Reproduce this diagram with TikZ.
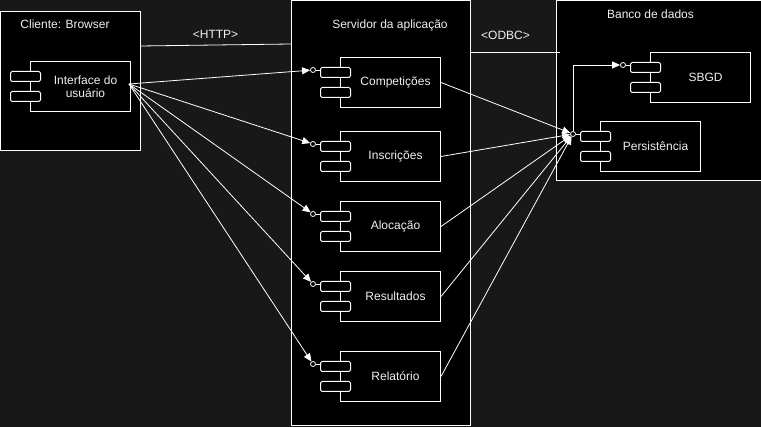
\documentclass[tikz,border=0pt]{standalone}
\usepackage{fontspec}
\setmainfont{Liberation Sans}
\usetikzlibrary{arrows.meta}
\definecolor{bg}{HTML}{181818}
\definecolor{fg}{HTML}{F0F0F0}
\newcommand\mkcomp[5]{% name, x, y, text, lollipop
  \node[comp, anchor=north west] (#1) at (#2,#3) {};
  \node[lbl] at ([xshift=5pt]#1.center) {#4};
  \node[port, anchor=north west] (#1A) at ([xshift=-20pt,yshift=-10pt]#1.north west) {};
  \node[port, anchor=north west] (#1B) at ([xshift=-20pt,yshift=-30pt]#1.north west) {};
  \ifx#5y
    \node[lol] (#1L) at ([xshift=-7pt,yshift=-3pt]#1A.north west) {};
    \draw[con] (#1L) -- (#1L -| #1A.west);
  \fi
}
\begin{document}
\begin{tikzpicture}[x=1pt,y=-1pt,
  box/.style={draw=white, fill=black, line width=1pt, inner sep=0},
  comp/.style={box, minimum width=100pt, minimum height=50pt},
  port/.style={draw=white, fill=black, line width=1pt, rounded corners=1.5pt, minimum width=30pt, minimum height=10pt, inner sep=0},
  lol/.style={circle, draw=white, fill=black, line width=0.8pt, minimum size=5pt, inner sep=0},
  con/.style={draw=white, line width=0.8pt},
  arr/.style={con, -{Triangle[length=8pt,width=7pt]}},
  lbl/.style={text=fg, font=\fontsize{12}{13.5}\selectfont, inner sep=0, align=center}]
\fill[bg] (0,0) rectangle (761,427);
\useasboundingbox (0,0) rectangle (761,427);
% containers
\draw[box] (0.5,11.5) rectangle (140,151);
\node[lbl] (clit) at (65,24.5) {Cliente: Browser};
\draw[box] (291,1) rectangle (470,426);
\node[lbl] (srvt) at (390,25) {Servidor da aplicação};
\draw[box] (556,1) rectangle (770,181);
\node[lbl] (bdt) at (650.5,14) {Banco de dados};
% client component
\mkcomp{ui}{30}{61}{Interface do\\usuário}{n}
% server components
\mkcomp{cpt}{340}{57}{Competições}{y}
\mkcomp{ins}{340}{131}{Inscrições}{y}
\mkcomp{alo}{340}{201}{Alocação}{y}
\mkcomp{res}{340}{271}{Resultados}{y}
\mkcomp{rel}{340}{351}{Relatório}{y}
% database components
\mkcomp{sbgd}{650}{52}{SBGD}{y}
\mkcomp{per}{600}{121}{Persistência}{y}
% HTTP / ODBC links
\coordinate (h1) at (140,46);
\coordinate (h2) at (291,44);
\draw[con] (h1) -- (h2);
\node[lbl] (http) at (215.5,34.5) {<HTTP>};
\coordinate (o1) at (470,52);
\coordinate (o2) at (560,52);
\draw[con] (o1) -- (o2);
\node[lbl] (odbc) at (505.5,35) {<ODBC>};
% UI to server components
\coordinate (uiO) at (129,84);
\foreach \c in {cpt,ins,alo,res,rel}{
  \draw[arr] (uiO) -- (\c L);
}
% server components to persistence
\foreach \c in {cpt,ins,alo,res,rel}{
  \draw[arr] (\c.east) -- (perL);
}
% persistence to SBGD
\coordinate (bend) at (perL |- sbgdL);
\draw[arr] (perL) -- (bend) -- (sbgdL);
\end{tikzpicture}
\end{document}
